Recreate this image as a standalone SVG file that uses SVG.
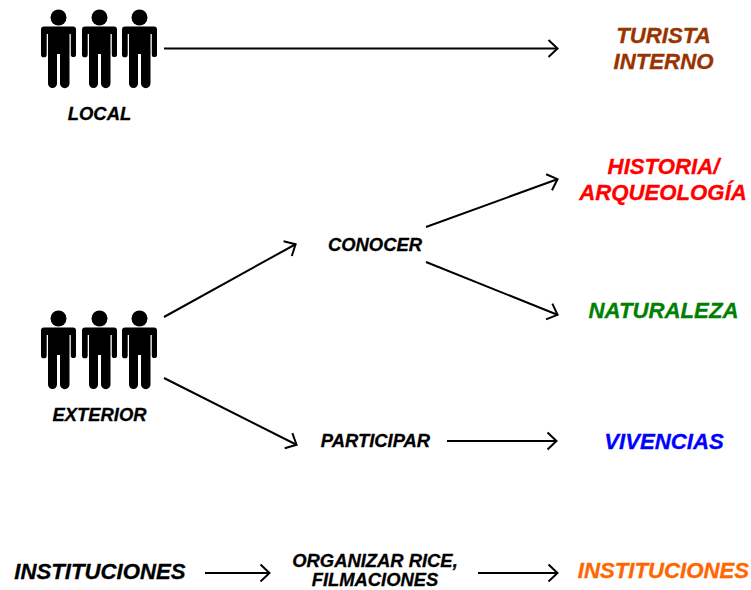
<svg xmlns="http://www.w3.org/2000/svg" width="751" height="590" viewBox="0 0 751 590">
<style>
text{font-family:"Liberation Sans",Arial,sans-serif;font-weight:bold;font-style:italic;text-anchor:middle;fill:currentColor;stroke:currentColor;stroke-width:.3px}
.s{font-size:18.4px;color:#000}
.m{font-size:22.2px}
.c{fill:none;stroke:#000;stroke-width:2}
</style>
<defs>
<marker id="a" markerUnits="userSpaceOnUse" markerWidth="22" markerHeight="22" refX="12" refY="11" orient="auto" viewBox="0 0 22 22"><path d="M2.500 2.500 L11.500 11 L2.500 19.500" fill="none" stroke="#000" stroke-width="2"/></marker>
<g id="person"><circle cx="17.500" cy="7.500" r="8"/><path d="M3 16.500 H32 Q35 16.500 35 19.500 V44.500 A2.600 2.600 0 0 1 29.800 44.500 V24 H28.500 V73.500 A4.750 4.750 0 0 1 19 73.500 V44 H16 V73.500 A4.500 4.500 0 0 1 7 73.500 V24 H5.700 V44.500 A2.850 2.850 0 0 1 0 44.500 V19.500 Q0 16.500 3 16.500Z"/></g>
</defs>
<g id="connectors" class="c">
<path marker-end="url(#a)" d="M164 48.500 H558"/>
<path marker-end="url(#a)" d="M164 317 L296 244"/>
<path marker-end="url(#a)" d="M164 378 L297 445"/>
<path marker-end="url(#a)" d="M426 227 L558 179"/>
<path marker-end="url(#a)" d="M426 262 L558 315"/>
<path marker-end="url(#a)" d="M447 441 H557"/>
<path marker-end="url(#a)" d="M205 573 H270"/>
<path marker-end="url(#a)" d="M478 573 H558"/>
</g>
<g id="local"><use href="#person" x="41" y="10"/><use href="#person" x="82" y="10"/><use href="#person" x="122" y="10"/><text class="s" x="99.500" y="120">LOCAL</text></g>
<g id="exterior"><use href="#person" x="41" y="311"/><use href="#person" x="82" y="311"/><use href="#person" x="122" y="311"/><text class="s" x="99.500" y="421">EXTERIOR</text></g>
<g id="turista" color="#993300"><text class="m" x="663.500" y="43">TURISTA</text><text class="m" x="663.500" y="69">INTERNO</text></g>
<g id="historia" color="#ff0000"><text class="m" x="663.500" y="173.500">HISTORIA/</text><text class="m" x="663" y="200">ARQUEOLOGÍA</text></g>
<g id="naturaleza" color="#008000"><text class="m" x="663.500" y="318">NATURALEZA</text></g>
<g id="vivencias" color="#0000ff"><text class="m" x="664" y="449">VIVENCIAS</text></g>
<g id="conocer"><text class="s" x="375" y="251">CONOCER</text></g>
<g id="participar"><text class="s" x="375.500" y="447">PARTICIPAR</text></g>
<g id="instituciones-left" color="#000"><text class="m" x="100" y="579">INSTITUCIONES</text></g>
<g id="organizar"><text class="s" x="375" y="566.500">ORGANIZAR RICE,</text><text class="s" x="375" y="586">FILMACIONES</text></g>
<g id="instituciones-right" color="#ff6600"><text class="m" x="663.500" y="578">INSTITUCIONES</text></g>
</svg>
